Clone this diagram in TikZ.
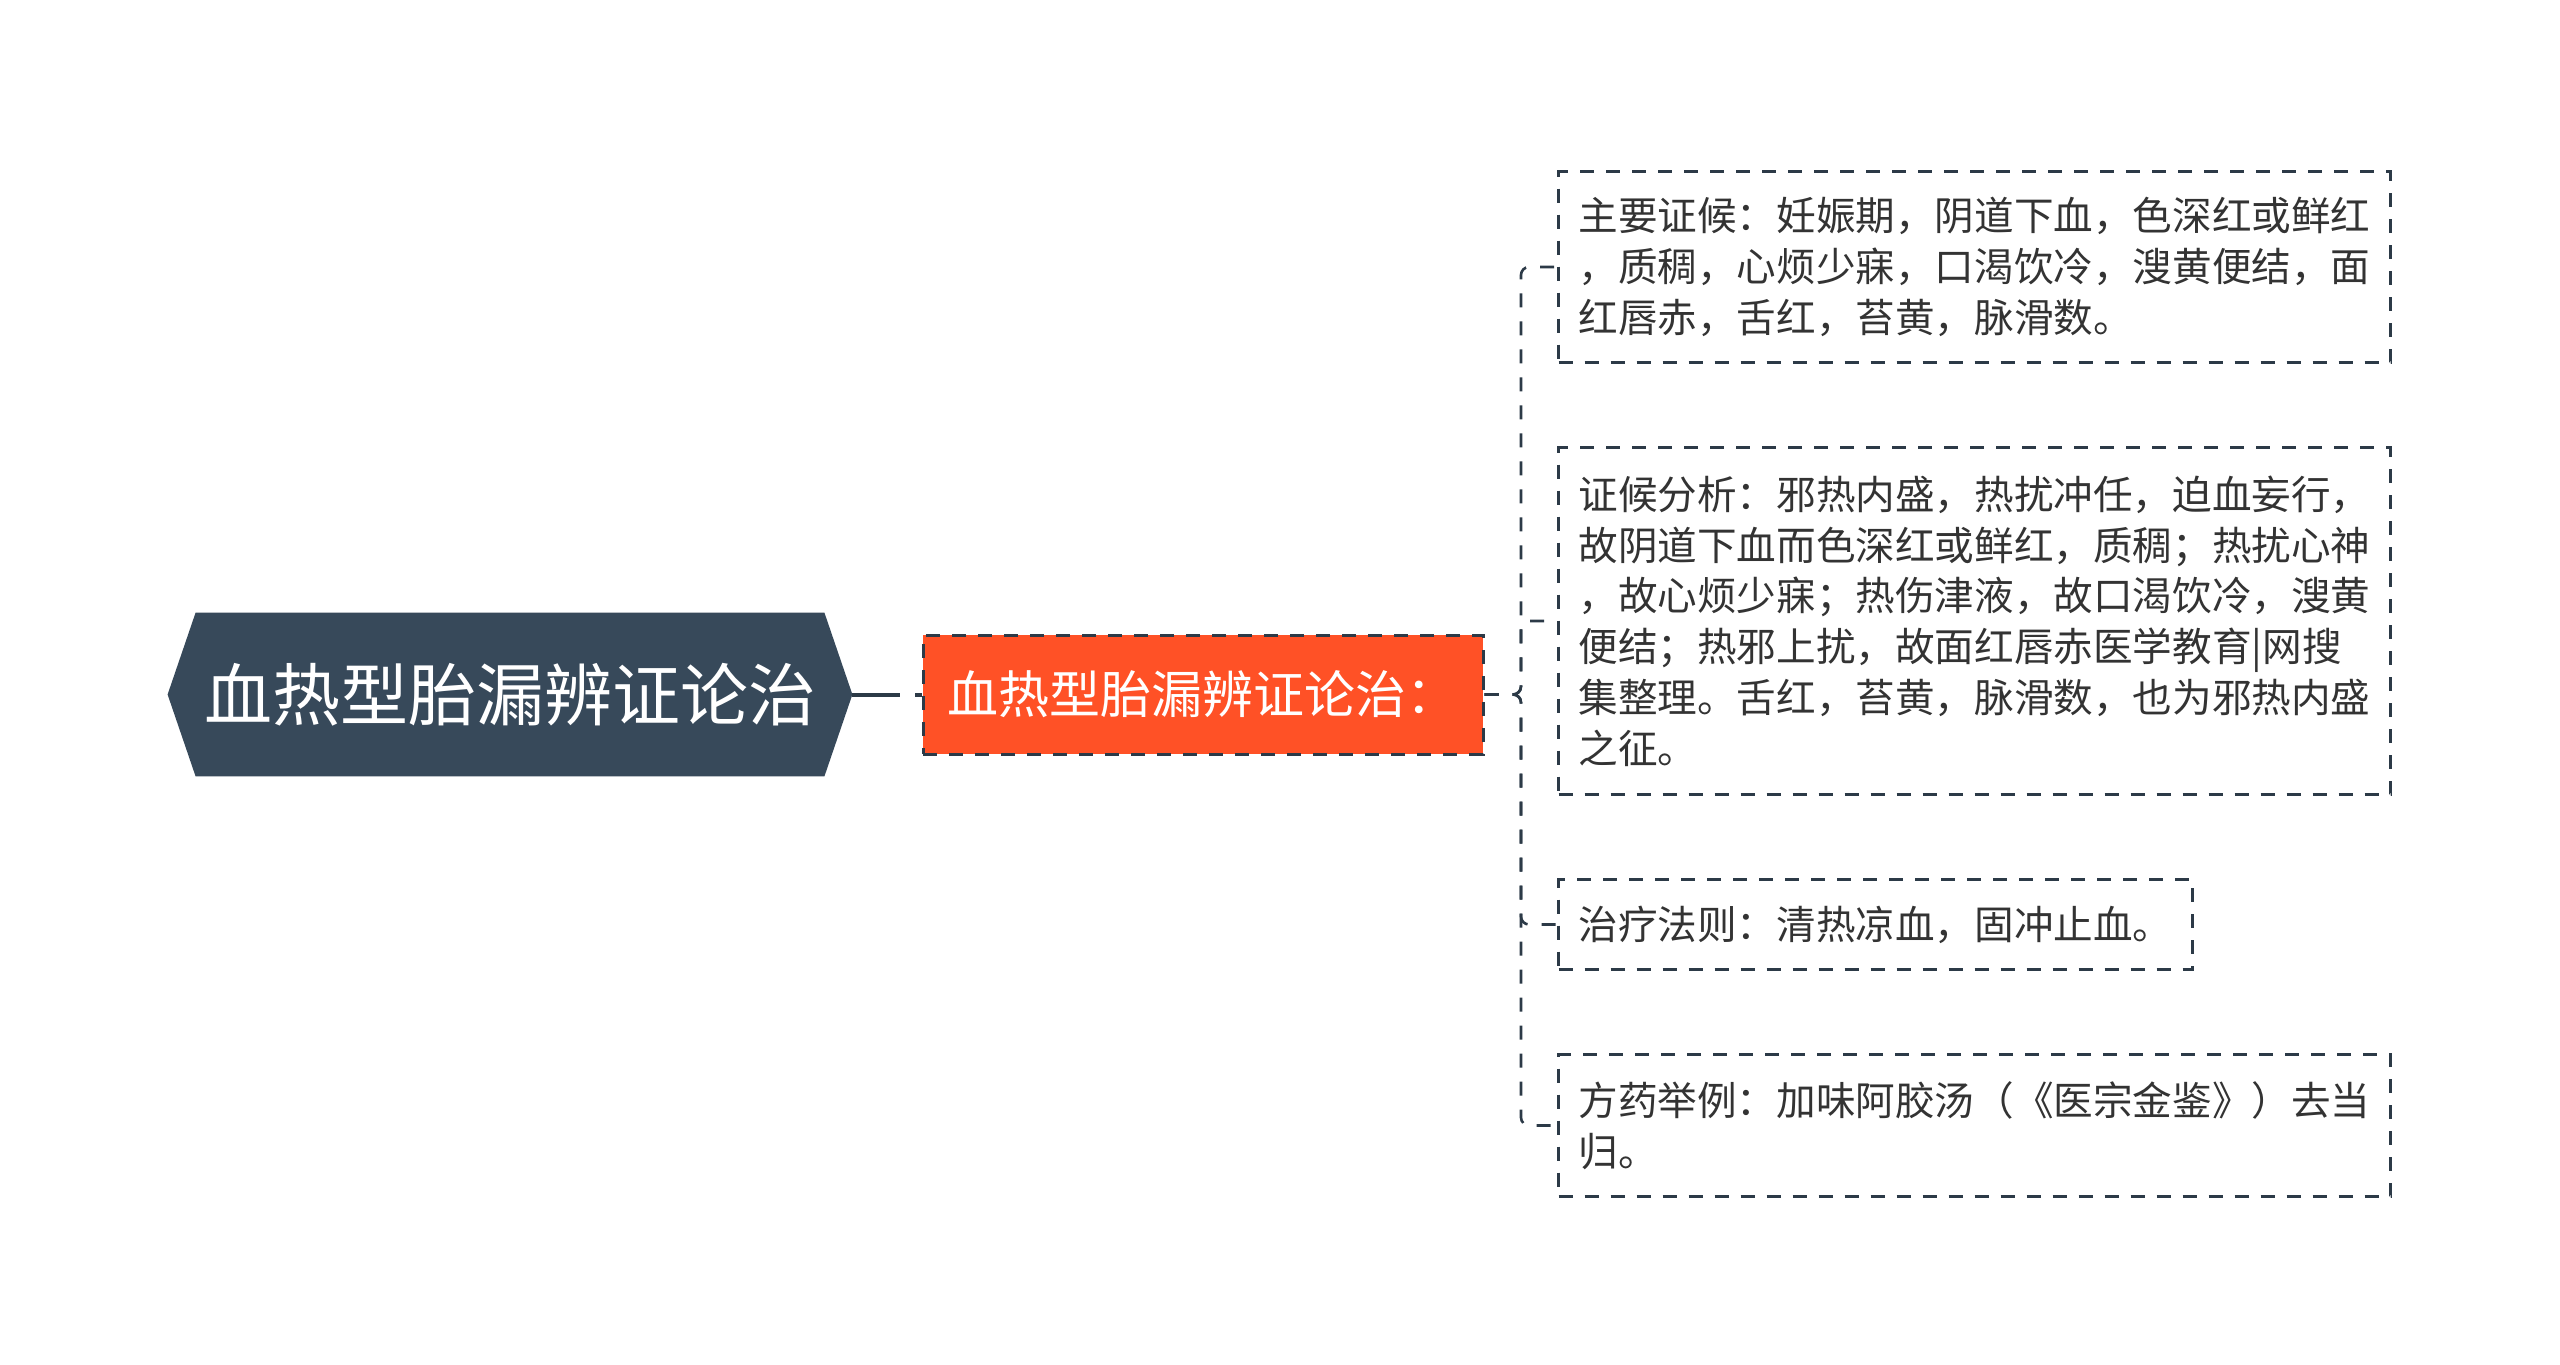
\documentclass[tikz,border=0pt]{standalone}
\usepackage{fontspec}
\setmainfont{Noto Sans CJK SC}
\usetikzlibrary{backgrounds}
\definecolor{rootfill}{HTML}{37495A}
\definecolor{subfill}{HTML}{FF5126}
\definecolor{linec}{HTML}{2C3A47}
\definecolor{textc}{HTML}{333333}
\tikzset{
  roottext/.style={inner sep=0pt, minimum width=342pt, minimum height=81.5pt, text=white, font=\fontsize{34}{40}\selectfont},
  subnode/.style={fill=subfill, draw=linec, line width=1.5pt, dash pattern=on 7pt off 6pt, text=white, font=\fontsize{25.5}{30}\selectfont, text width=256pt, align=left, inner xsep=12pt, inner ysep=0pt, minimum height=59.5pt},
  leaf/.style={draw=linec, line width=1.5pt, dash pattern=on 7pt off 6pt, text=textc, font=\fontsize{19.8}{25.4}\selectfont, align=left, inner xsep=10pt, inner ysep=0pt, anchor=north west},
  conn/.style={draw=linec, line width=1.3pt, dash pattern=on 7pt off 7pt, rounded corners=4pt},
  rootconn/.style={draw=linec, line width=2pt, dash pattern=on 24pt off 7.5pt on 20pt},
}
\begin{document}
\begin{tikzpicture}[x=0.5pt, y=-0.5pt]
\path[use as bounding box] (0,0) rectangle (2560,1365);

\node[roottext] (root) at (510,694.5) {血热型胎漏辨证论治};
\node[subnode] (sub) at (1203,694.5) {血热型胎漏辨证论治：};

\node[leaf, minimum height=95.5pt] (b1) at (1557,170) {主要证候：妊娠期，阴道下血，色深红或鲜红\\，质稠，心烦少寐，口渴饮冷，溲黄便结，面\\红唇赤，舌红，苔黄，脉滑数。};
\node[leaf, minimum height=173.5pt] (b2) at (1557,446) {证候分析：邪热内盛，热扰冲任，迫血妄行，\\故阴道下血而色深红或鲜红，质稠；热扰心神\\，故心烦少寐；热伤津液，故口渴饮冷，溲黄\\便结；热邪上扰，故面红唇赤医学教育|网搜\\集整理。舌红，苔黄，脉滑数，也为邪热内盛\\之征。};
\node[leaf, minimum height=45pt] (b3) at (1557,878) {治疗法则：清热凉血，固冲止血。};
\node[leaf, minimum height=71pt] (b4) at (1557,1053) {方药举例：加味阿胶汤（《医宗金鉴》）去当\\归。};

\begin{scope}[on background layer]
\fill[white] (0,0) rectangle (2560,1365);
\fill[rootfill] (root.west) -- ([xshift=14pt]root.north west) -- ([xshift=-14pt]root.north east) -- (root.east) -- ([xshift=-14pt]root.south east) -- ([xshift=14pt]root.south west) -- cycle;
\end{scope}

\draw[rootconn] (root.east) -- (sub.west);

\coordinate (jn) at (1521,694.5);
\draw[conn] (sub.east) -- (jn) |- (b1.west);
\draw[conn] (sub.east) -- (jn) |- (b2.west);
\draw[conn] (sub.east) -- (jn) |- (b3.west);
\draw[conn] (sub.east) -- (jn) |- (b4.west);
\end{tikzpicture}
\end{document}
